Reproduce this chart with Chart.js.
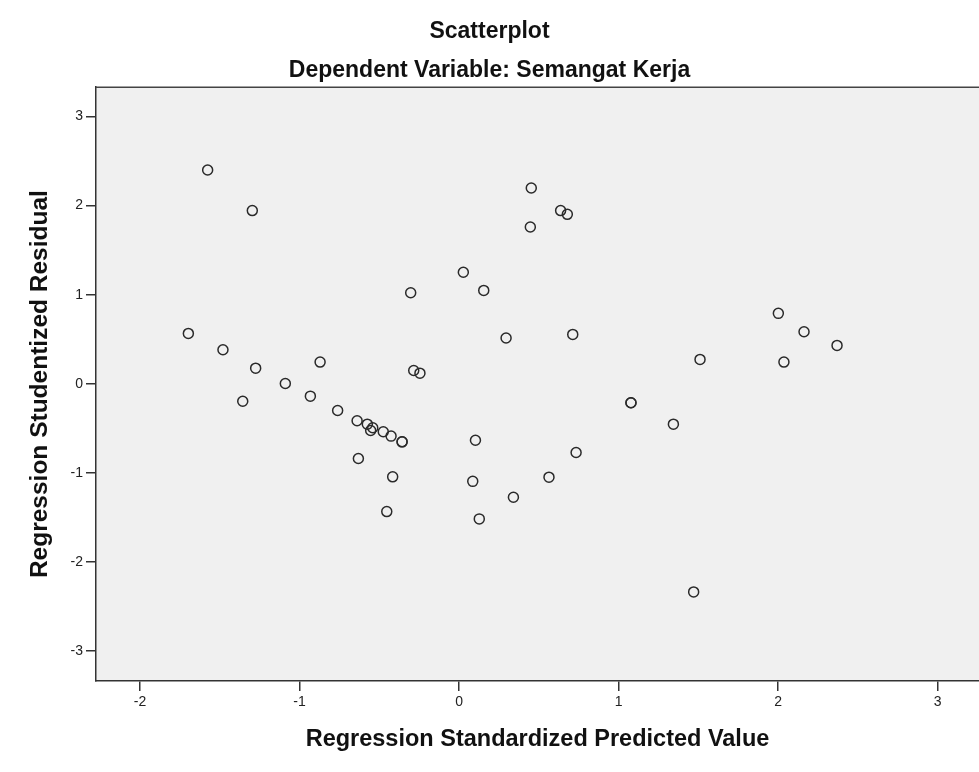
<!DOCTYPE html>
<html>
<head>
<meta charset="utf-8">
<script src="https://cdn.jsdelivr.net/npm/chart.js@4"></script>
<style>
  html, body { margin: 0; padding: 0; background: #ffffff; }
  #wrap { width: 979px; height: 772px; position: relative; }
</style>
</head>
<body>
<div id="wrap"><canvas id="c" width="979" height="772"></canvas></div>
<script>
const chartTitle = "Scatterplot";
const chartSubtitle = "Dependent Variable: Semangat Kerja";
const xAxisTitle = "Regression Standardized Predicted Value";
const yAxisTitle = "Regression Studentized Residual";

const xTickValues = [-2, -1, 0, 1, 2, 3];
const yTickValues = [-3, -2, -1, 0, 1, 2, 3];

// Regression Standardized Predicted Value
const predicted = [
  -1.576, -1.296, -1.697, -1.480, -1.275, -0.871, -1.089, -1.356, -0.932, -0.761,
  -0.639, -0.631, -0.575, -0.541, -0.554, -0.475, -0.426, -0.357, -0.357, -0.416,
  -0.453, 0.103, 0.086, 0.127, 0.341, 0.564, 0.734, 0.453, 0.637, 0.679,
  0.447, 0.027, 0.155, -0.303, 0.295, 0.713, -0.284, -0.245, 2.002, 2.163,
  2.370, 1.511, 2.037, 1.078, 1.078, 1.344, 1.471
];
// Regression Studentized Residual
const residual = [
  2.400, 1.944, 0.565, 0.382, 0.175, 0.243, 0.003, -0.196, -0.139, -0.300,
  -0.416, -0.839, -0.454, -0.494, -0.525, -0.539, -0.588, -0.652, -0.652, -1.045,
  -1.435, -0.634, -1.096, -1.517, -1.274, -1.049, -0.772, 2.198, 1.944, 1.902,
  1.760, 1.251, 1.048, 1.022, 0.513, 0.554, 0.149, 0.119, 0.790, 0.584,
  0.430, 0.273, 0.243, -0.214, -0.214, -0.454, -2.337
];

const points = predicted.map((x, i) => ({ x: x, y: residual[i] }));

const plotFrame = {
  id: 'plotFrame',
  beforeDraw(chart) {
    const { ctx, chartArea: a } = chart;
    ctx.save();
    ctx.fillStyle = '#f0f0f0';
    ctx.fillRect(a.left, a.top, a.right - a.left, a.bottom - a.top);
    ctx.restore();
  },
  afterDraw(chart) {
    const { ctx, chartArea: a } = chart;
    ctx.save();
    ctx.strokeStyle = '#444444';
    ctx.lineWidth = 1.5;
    ctx.beginPath();
    ctx.moveTo(a.left, a.top);
    ctx.lineTo(a.right, a.top);
    ctx.stroke();
    ctx.restore();
  }
};

const fontFamily = '"Liberation Sans", Arial, sans-serif';

new Chart(document.getElementById('c'), {
  type: 'scatter',
  data: {
    datasets: [{
      data: points,
      pointStyle: 'circle',
      pointRadius: 5,
      pointHoverRadius: 5,
      pointBorderWidth: 1.5,
      borderColor: '#2a2a2a',
      backgroundColor: 'rgba(0,0,0,0)'
    }]
  },
  options: {
    responsive: false,
    animation: false,
    events: [],
    layout: { autoPadding: false, padding: { top: 0, left: 0, right: 0, bottom: 0 } },
    plugins: {
      legend: { display: false },
      tooltip: { enabled: false },
      title: {
        display: true,
        text: chartTitle,
        color: '#111111',
        font: { family: fontFamily, size: 23, weight: 'bold', lineHeight: 1.2 },
        padding: { top: 18, bottom: 3 }
      },
      subtitle: {
        display: true,
        text: chartSubtitle,
        color: '#111111',
        font: { family: fontFamily, size: 23, weight: 'bold', lineHeight: 1.2 },
        padding: { top: 8, bottom: 3 }
      }
    },
    scales: {
      x: {
        type: 'linear',
        min: -2.276,
        max: 3.26,
        afterBuildTicks(scale) { scale.ticks = xTickValues.map(v => ({ value: v })); },
        afterFit(scale) { scale.height = 91; scale.paddingLeft = 0; scale.paddingRight = 0; },
        border: { display: true, color: '#333333', width: 1.5 },
        grid: { display: true, drawOnChartArea: false, drawTicks: true, tickLength: 10, color: '#333333', lineWidth: 1.5 },
        ticks: {
          color: '#222222',
          font: { family: fontFamily, size: 14 },
          padding: 3,
          maxRotation: 0,
          callback: v => String(v)
        },
        title: {
          display: true,
          text: xAxisTitle,
          color: '#111111',
          font: { family: fontFamily, size: 23.5, weight: 'bold', lineHeight: 1.2 },
          padding: { top: 0, bottom: 18 }
        }
      },
      y: {
        type: 'linear',
        min: -3.337,
        max: 3.329,
        afterBuildTicks(scale) { scale.ticks = yTickValues.map(v => ({ value: v })); },
        afterFit(scale) { scale.width = 96; scale.paddingTop = 0; scale.paddingBottom = 0; },
        border: { display: true, color: '#333333', width: 1.5 },
        grid: { display: true, drawOnChartArea: false, drawTicks: true, tickLength: 10, color: '#333333', lineWidth: 1.5 },
        ticks: {
          color: '#222222',
          font: { family: fontFamily, size: 14 },
          padding: 3,
          callback: v => String(v)
        },
        title: {
          display: true,
          text: yAxisTitle,
          color: '#111111',
          font: { family: fontFamily, size: 24.5, weight: 'bold', lineHeight: 1.2 },
          padding: { top: 26, bottom: 0 }
        }
      }
    }
  },
  plugins: [plotFrame]
});
</script>
</body>
</html>
